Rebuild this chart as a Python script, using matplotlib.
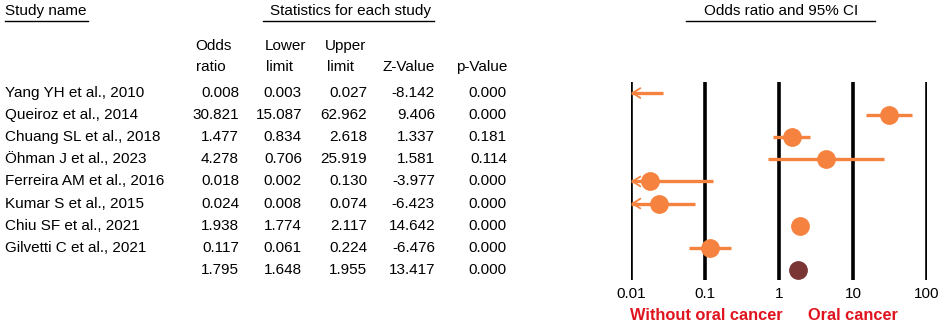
import matplotlib.pyplot as plt
import numpy as np

plt.rcParams['font.family'] = ['Liberation Sans', 'DejaVu Sans']

studies = ['Yang YH et al., 2010', 'Queiroz et al., 2014', 'Chuang SL et al., 2018',
           'Öhman J et al., 2023', 'Ferreira AM et al., 2016', 'Kumar S et al., 2015',
           'Chiu SF et al., 2021', 'Gilvetti C et al., 2021', '']
odds = [0.008, 30.821, 1.477, 4.278, 0.018, 0.024, 1.938, 0.117, 1.795]
lower = [0.003, 15.087, 0.834, 0.706, 0.002, 0.008, 1.774, 0.061, 1.648]
upper = [0.027, 62.962, 2.618, 25.919, 0.130, 0.074, 2.117, 0.224, 1.955]
zval = [-8.142, 9.406, 1.337, 1.581, -3.977, -6.423, 14.642, -6.476, 13.417]
pval = [0.000, 0.000, 0.181, 0.114, 0.000, 0.000, 0.000, 0.000, 0.000]
ticks = [0.01, 0.1, 1, 10, 100]
tick_labels = ['0.01', '0.1', '1', '10', '100']

W, H = 944, 323
orange = '#F5823F'
summary_col = '#7A3535'
fs = 11

fig = plt.figure(figsize=(W / 100, H / 100), dpi=100)


def ftext(x, y, s, **kw):
    fig.text(x / W, 1 - y / H, s, fontsize=kw.pop('fontsize', fs), va='center', **kw)


def uline(x0, x1, y):
    fig.add_artist(plt.Line2D([x0 / W, x1 / W], [1 - y / H, 1 - y / H], color='black', lw=1))


# headers
ftext(5, 11, 'Study name')
uline(5, 88, 21)
ftext(351, 11, 'Statistics for each study', ha='center')
uline(263, 434, 21)
ftext(781, 11, 'Odds ratio and 95% CI', ha='center')
uline(686, 875, 21)

ftext(195, 46, 'Odds')
ftext(196, 67, 'ratio')
ftext(265, 46, 'Lower')
ftext(266, 67, 'limit')
ftext(325, 46, 'Upper')
ftext(327, 67, 'limit')
ftext(435, 67, 'Z-Value', ha='right')
ftext(507, 67, 'p-Value', ha='right')

# table rows
row_y0, row_dy = 93, 22.1
for i in range(len(odds)):
    y = row_y0 + row_dy * i
    ftext(5, y, studies[i])
    ftext(239, y, f'{odds[i]:.3f}', ha='right')
    ftext(302, y, f'{lower[i]:.3f}', ha='right')
    ftext(367, y, f'{upper[i]:.3f}', ha='right')
    ftext(435, y, f'{zval[i]:.3f}', ha='right')
    ftext(507, y, f'{pval[i]:.3f}', ha='right')

# forest plot axes
ax = fig.add_axes([631 / W, (H - 280) / H, 296 / W, 198 / H])
ax.set_xscale('log')
ax.set_xlim(0.01, 100)
ax.set_ylim(8.46, -0.5)
for t in ticks:
    ax.axvline(t, color='black', lw=2.6, zorder=1)

xmin = 0.01
for i in range(len(odds)):
    col = summary_col if i == len(odds) - 1 else orange
    lo = max(lower[i], xmin)
    ax.plot([lo, upper[i]], [i, i], color=col, lw=2.4, zorder=3, solid_capstyle='butt')
    if lower[i] < xmin:
        # open arrow head at the left edge
        ax.annotate('', xy=(xmin, i), xytext=(xmin * 1.25, i),
                    arrowprops=dict(arrowstyle='->,head_length=0.55,head_width=0.35',
                                    color=col, lw=1.3, shrinkA=0, shrinkB=0),
                    zorder=3, annotation_clip=False)
    if odds[i] >= xmin:
        ax.plot(odds[i], i, 'o', color=col, markersize=12.5, zorder=4, clip_on=False)

ax.set_xticks(ticks)
ax.set_xticklabels(tick_labels, fontsize=fs)
ax.minorticks_off()
ax.tick_params(axis='x', length=0, pad=5)
ax.set_yticks([])
for s in ax.spines.values():
    s.set_visible(False)
ax.patch.set_visible(False)

ftext(706, 315, 'Without oral cancer', ha='center', color='#E0141E', fontweight='bold', fontsize=11.8)
ftext(853, 315, 'Oral cancer', ha='center', color='#E0141E', fontweight='bold', fontsize=11.8)

fig.savefig('out.png', dpi=100)
